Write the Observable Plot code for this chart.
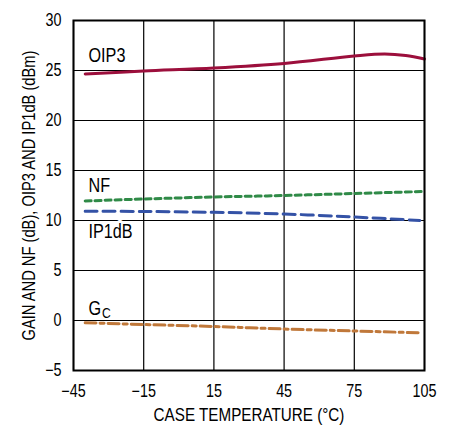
<!DOCTYPE html>
<html><head><meta charset="utf-8">
<script src="https://cdn.jsdelivr.net/npm/d3@7"></script>
<script src="https://cdn.jsdelivr.net/npm/@observablehq/plot@0.6"></script>
<style>
body{margin:0;background:#fff;}
#chart svg{display:block;}
</style>
</head><body><div id="chart"></div>
<script>
const xTicks = [-45, -15, 15, 45, 75, 105];
const yTicks = [-5, 0, 5, 10, 15, 20, 25, 30];

const tempOIP3 = [-40, -15, 15, 45, 75, 88, 97, 105];
const valOIP3  = [24.65, 24.95, 25.25, 25.7, 26.45, 26.65, 26.5, 26.15];

const tempNF = [-40, -15, 15, 45, 75, 105];
const valNF  = [11.95, 12.15, 12.35, 12.5, 12.7, 12.9];

const tempIP1 = [-40, -15, 15, 45, 75, 103];
const valIP1  = [10.93, 10.9, 10.82, 10.65, 10.35, 10.0];

const tempGC = [-40, -15, 15, 45, 75, 103];
const valGC  = [-0.22, -0.4, -0.6, -0.85, -1.05, -1.23];

const seriesNames = ["OIP3", "NF", "IP1dB", "GC"];
const seriesColors = ["#9c0f3c", "#2f8a47", "#3452a6", "#c0783a"];
const seriesDash = [null, "6,4", "12,6", "11,4,4,4"];

const labelText = ["OIP3", "NF", "IP1dB", "G"];
const labelX = [-38.6, -38.6, -38.6, -38.6];
const labelY = [26.5, 13.5, 8.9, 1.15];

const toRows = (t, v) => t.map((x, i) => ({x, y: v[i]}));
const data = [toRows(tempOIP3, valOIP3), toRows(tempNF, valNF), toRows(tempIP1, valIP1), toRows(tempGC, valGC)];

const font = "'Liberation Sans', Arial, sans-serif";

const lineMarks = data.map((rows, i) => Plot.line(rows, {
  x: "x", y: "y", stroke: seriesColors[i], strokeWidth: 3,
  strokeDasharray: seriesDash[i] ?? undefined, curve: "catmull-rom"
}));

const labels = labelText.map((t, i) => ({t, x: labelX[i], y: labelY[i]}));

const chart = Plot.plot({
  width: 455, height: 426,
  marginLeft: 73, marginRight: 31, marginTop: 20, marginBottom: 56,
  style: {fontFamily: font, fontSize: "17.5px", color: "#000", background: "#fff"},
  x: {domain: [-45, 105]},
  y: {domain: [-5, 30]},
  marks: [
    Plot.gridX(xTicks, {stroke: "#000", strokeOpacity: 1, strokeWidth: 1.2}),
    Plot.gridY(yTicks, {stroke: "#000", strokeOpacity: 1, strokeWidth: 1.2}),
    Plot.axisX({ticks: xTicks, tickSize: 0, tickPadding: 14, label: "CASE TEMPERATURE (°C)", labelAnchor: "center", labelArrow: "none", labelOffset: 50, fontSize: 17.5}),
    Plot.axisY({ticks: yTicks, tickSize: 0, tickPadding: 12, label: "GAIN AND NF (dB), OIP3 AND IP1dB (dBm)", labelAnchor: "center", labelArrow: "none", labelOffset: 51, fontSize: 17.5}),
    Plot.text(labels, {x: "x", y: "y", text: "t", textAnchor: "start", fill: "#000", stroke: "#fff", strokeWidth: 6, fontSize: 20}),
    Plot.text(labels.filter(d => d.t === "G"), {x: "x", y: "y", text: () => "C", textAnchor: "start", dx: 13.5, dy: 4, fill: "#000", fontSize: 15}),
    ...lineMarks,
    Plot.frame({stroke: "#000", strokeWidth: 2})
  ]
});
document.getElementById("chart").append(chart);
// condense text horizontally to mimic a narrow Helvetica
chart.querySelectorAll("text").forEach(el => {
  const g = el.closest("g[aria-label]");
  const role = g ? g.getAttribute("aria-label") : "";
  let k = 0.82;
  if (role.endsWith("axis label")) k = role.startsWith("y") ? 0.84 : 0.87;
  else if (role === "text") k = 0.81;
  const len = el.getComputedTextLength();
  if (len > 0) {
    el.setAttribute("textLength", (len * k).toFixed(2));
    el.setAttribute("lengthAdjust", "spacingAndGlyphs");
  }
});
</script>
</body></html>
